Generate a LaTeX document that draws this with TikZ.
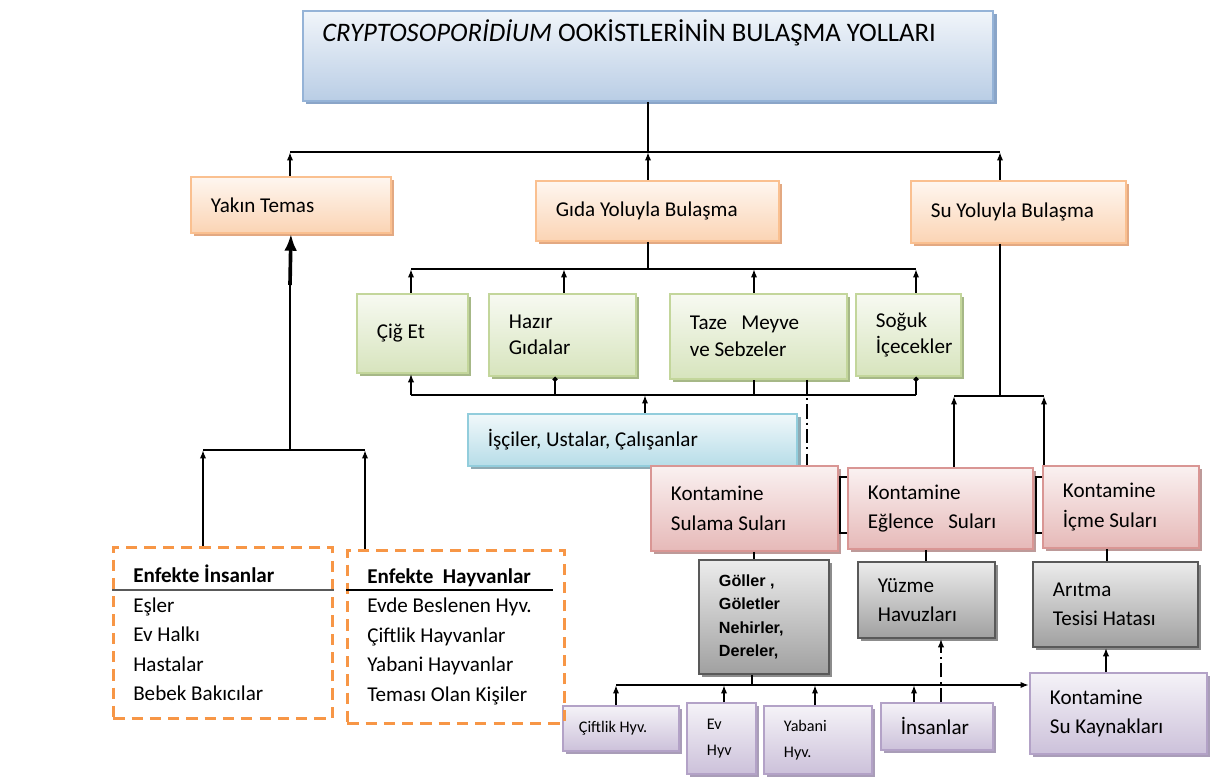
\documentclass[tikz,border=0pt]{standalone}
\usepackage{fontspec}
\setmainfont{Carlito}
\newfontfamily\arialfont{Liberation Sans}
\usepackage{tikz}
\usetikzlibrary{positioning, arrows.meta, shadows, calc}

\definecolor{titleB}{HTML}{95B3D7}
\definecolor{titleF}{HTML}{B9CDE5}
\definecolor{titleS}{HTML}{8AA5C8}
\definecolor{orngB}{HTML}{FAC090}
\definecolor{orngF}{HTML}{FBD4B4}
\definecolor{orngS}{HTML}{E3A982}
\definecolor{grnB}{HTML}{C3D69B}
\definecolor{grnF}{HTML}{D7E4BD}
\definecolor{grnS}{HTML}{A6B887}
\definecolor{cyanB}{HTML}{92CDDC}
\definecolor{cyanF}{HTML}{B7DDE8}
\definecolor{cyanS}{HTML}{8FAAB3}
\definecolor{pinkB}{HTML}{D99694}
\definecolor{pinkF}{HTML}{E6B9B8}
\definecolor{pinkS}{HTML}{BD9A99}
\definecolor{grayB}{HTML}{595959}
\definecolor{grayF}{HTML}{A0A0A0}
\definecolor{grayS}{HTML}{8C8C8C}
\definecolor{purpB}{HTML}{B3A2C7}
\definecolor{purpF}{HTML}{CCC1DA}
\definecolor{purpS}{HTML}{A99DB8}
\definecolor{dashO}{HTML}{F79646}

\begin{document}
\begin{tikzpicture}[x=0.025cm, y=-0.025cm,
  box/.style={draw, line width=1.3pt, anchor=north west, align=flush left,
    inner xsep=0.5cm, inner ysep=0pt, font=\fontsize{15}{21}\selectfont},
  shbox/.style n args={3}{box, draw=#1, top color=#2!20, bottom color=#2,
    drop shadow={shadow xshift=2.5pt, shadow yshift=-2.5pt, fill=#3, opacity=1}},
  ttl/.style={shbox={titleB}{titleF}{titleS}},
  orng/.style={shbox={orngB}{orngF}{orngS}},
  grn/.style={shbox={grnB}{grnF}{grnS}, font=\fontsize{15}{19}\selectfont},
  cyn/.style={shbox={cyanB}{cyanF}{cyanS}},
  pnk/.style={shbox={pinkB}{pinkF}{pinkS}},
  gry/.style={shbox={grayB}{grayF}{grayS}},
  prp/.style={shbox={purpB}{purpF}{purpS}},
  dbox/.style={box, draw=dashO, line width=1.8pt, dash pattern=on 8pt off 5pt},
  conn/.style={line width=1.2pt},
  arr/.style={conn, -{Latex[length=6pt,width=4.5pt]}},
  dotarr/.style={conn, -{Circle[length=3.5pt]}},
  ddline/.style={conn, dash pattern=on 10pt off 3pt on 1.5pt off 3pt}]
\fill[white] (0,0) rectangle (1225,780);
\useasboundingbox (0,0) rectangle (1225,780);

% title
\node[ttl, minimum width=17.25cm, minimum height=2.25cm] (title) at (302,10) {};
\node[anchor=west, inner sep=0pt, font=\fontsize{19}{22}\selectfont] (titletxt) at (322,33)
  {\textit{CRYPTOSOPORİDİUM} OOKİSTLERİNİN BULAŞMA YOLLARI};

% three ways
\node[orng, text width=4cm, minimum height=1.4cm] (yakin) at (190,176) {Yakın Temas};
\node[orng, text width=5.075cm, minimum height=1.5cm] (gida) at (535,180) {Gıda Yoluyla Bulaşma};
\node[orng, text width=4.375cm, minimum height=1.55cm] (su) at (910,180) {Su Yoluyla Bulaşma};

% food
\node[grn, text width=1.775cm, minimum height=1.975cm] (cig) at (356,293) {Çiğ Et};
\node[grn, text width=2.675cm, minimum height=2.05cm] (hazir) at (488,293) {Hazır\\Gıdalar};
\node[grn, text width=3.425cm, minimum height=2.125cm] (taze) at (669,293) {Taze\ \ \ Meyve\\ve Sebzeler};
\node[grn, text width=1.625cm, minimum height=2.05cm] (soguk) at (855,293) {Soğuk\\İçecekler};
\node[cyn, text width=7.225cm, minimum height=1.3cm] (isci) at (467,413) {İşçiler, Ustalar, Çalışanlar};

% water
\node[pnk, text width=3.675cm, minimum height=2.125cm] (sulama) at (650,465) {Kontamine\\Sulama Suları};
\node[pnk, text width=3.625cm, minimum height=2.025cm] (eglence) at (847,467) {Kontamine\\Eğlence\ \ \ Suları};
\node[pnk, text width=2.9cm, minimum height=2.05cm] (icme) at (1042,465) {Kontamine\\İçme Suları};
\node[gry, text width=2.25cm, minimum height=2.85cm, font=\arialfont\bfseries\fontsize{11.5}{16.5}\selectfont]
  (goller) at (698,559) {Göller ,\\Göletler\\Nehirler,\\Dereler,};
\node[gry, text width=2.425cm, minimum height=1.9cm] (yuzme) at (857,561) {Yüzme\\Havuzları};
\node[gry, text width=3.125cm, minimum height=2.125cm] (aritma) at (1032,561) {Arıtma\\Tesisi Hatası};

% sources
\node[prp, text width=2.1cm, minimum height=1.125cm, inner xsep=0.4cm, font=\fontsize{11.5}{18.5}\selectfont]
  (ciftlik) at (562,705) {Çiftlik Hyv.};
\node[prp, text width=0.725cm, minimum height=1.775cm, font=\fontsize{11.5}{18.5}\selectfont]
  (ev) at (686,702) {Ev\\Hyv};
\node[prp, text width=1.7cm, minimum height=1.7cm, font=\fontsize{11.5}{18.5}\selectfont]
  (yabani) at (763,705) {Yabani\\Hyv.};
\node[prp, text width=1.8cm, minimum height=1.175cm] (insanlar) at (880,702) {İnsanlar};
\node[prp, text width=3.425cm, minimum height=2.025cm] (kaynak) at (1029,672) {Kontamine\\Su Kaynakları};

% contact
\node[dbox, text width=4.475cm, minimum height=4.275cm] (insan) at (112,546)
  {\textbf{Enfekte İnsanlar}\\Eşler\\Ev Halkı\\Hastalar\\Bebek Bakıcılar};
\node[dbox, text width=4.425cm, minimum height=4.325cm] (hayvan) at (346,549)
  {\textbf{Enfekte~ Hayvanlar}\\Evde Beslenen Hyv.\\Çiftlik Hayvanlar\\Yabani Hayvanlar\\Teması Olan Kişiler};
\coordinate (sepL) at (0,590);
\coordinate (sepR) at (553,590);
\draw[line width=1.3pt, black!65] (insan.west |- sepL) -- (insan.east |- sepL);
\draw[line width=1.6pt] (hayvan.west |- sepR) -- (sepR);

% top bus
\coordinate (tb1) at (290,152);
\coordinate (tb2) at (648,152);
\coordinate (tb3) at (1000,152);
\draw[conn] (title.south -| tb2) -- (tb2);
\draw[conn, line width=1.8pt] (tb1) -- (tb3);
\draw[arr] (yakin.north -| tb1) -- (tb1);
\draw[arr] (gida.north -| tb2) -- (tb2);
\draw[arr] (su.north -| tb3) -- (tb3);

% food buses
\coordinate (gb0) at (648,269);
\coordinate (gb1) at (411,269);
\coordinate (gb2) at (564,269);
\coordinate (gb3) at (754,269);
\coordinate (gb4) at (916,269);
\draw[conn] (gida.south -| gb0) -- (gb0);
\draw[conn] (gb1) -- (gb4);
\foreach \g/\b in {1/cig, 2/hazir, 3/taze, 4/soguk}
  \draw[arr] (\b.north -| gb\g) -- (gb\g);

\coordinate (fb0) at (645,395);
\coordinate (fb1) at (411,395);
\coordinate (fb2) at (555,395);
\coordinate (fb3) at (754,395);
\coordinate (fb4) at (916,395);
\draw[conn] (fb1) -- (fb4);
\draw[arr] (isci.north -| fb0) -- (fb0);
\draw[arr] (fb1) -- (cig.south -| fb1);
\draw[dotarr] (fb2) -- (hazir.south -| fb2);
\draw[conn] (fb3) -- (taze.south -| fb3);
\draw[dotarr] (fb4) -- (soguk.south -| fb4);
\coordinate (dd1) at (807,0);
\draw[ddline] (taze.south -| dd1) -- (sulama.north -| dd1);

% water buses
\coordinate (wb0) at (1000,396);
\coordinate (wb1) at (954,396);
\coordinate (wb2) at (1044,396);
\draw[conn] (su.south -| wb0) -- (wb0);
\draw[conn] (wb1) -- (wb2);
\draw[arr] (eglence.north -| wb1) -- (wb1);
\draw[arr] (icme.north -| wb2) -- (wb2);
\coordinate (br1) at (840,477);
\coordinate (br2) at (840,533);
\coordinate (br3) at (1036,477);
\coordinate (br4) at (1036,533);
\draw[conn] (eglence.west |- br1) -| (br2) -- (eglence.west |- br2);
\draw[conn] (icme.west |- br3) -| (br4) -- (icme.west |- br4);
\coordinate (pg1) at (754,0);
\coordinate (pg2) at (926,0);
\coordinate (pg3) at (1107,0);
\draw[conn] (sulama.south -| pg1) -- (goller.north -| pg1);
\draw[conn] (eglence.south -| pg2) -- (yuzme.north -| pg2);
\draw[conn] (icme.south -| pg3) -- (aritma.north -| pg3);

% bottom bus
\coordinate (bb0) at (752,685);
\coordinate (bb1) at (616,685);
\coordinate (bb2) at (724,685);
\coordinate (bb3) at (815,685);
\coordinate (bb4) at (914,685);
\draw[conn] (goller.south -| bb0) -- (bb0);
\draw[arr] (bb1) -- (kaynak.west |- bb1);
\foreach \g/\b in {1/ciftlik, 2/ev, 3/yabani, 4/insanlar}
  \draw[arr] (\b.north -| bb\g) -- (bb\g);
\coordinate (dd2) at (941,0);
\draw[ddline, -{Latex[length=6pt,width=4.5pt]}] (insanlar.north -| dd2) -- (yuzme.south -| dd2);
\coordinate (ka) at (1106,0);
\draw[arr] (kaynak.north -| ka) -- (aritma.south -| ka);

% contact bus
\coordinate (lb0) at (290,450);
\coordinate (lb1) at (203,450);
\coordinate (lb2) at (365,450);
\coordinate (lbk) at (290,285);
\draw[conn] (lb1) -- (lb2);
\draw[conn] (lb0) -- (lbk);
\draw[line width=2.6pt, -{Latex[length=12pt,width=9pt]}] (lbk) -- (yakin.south);
\draw[arr] (insan.north -| lb1) -- (lb1);
\draw[arr] (hayvan.north -| lb2) -- (lb2);
\end{tikzpicture}
\end{document}
